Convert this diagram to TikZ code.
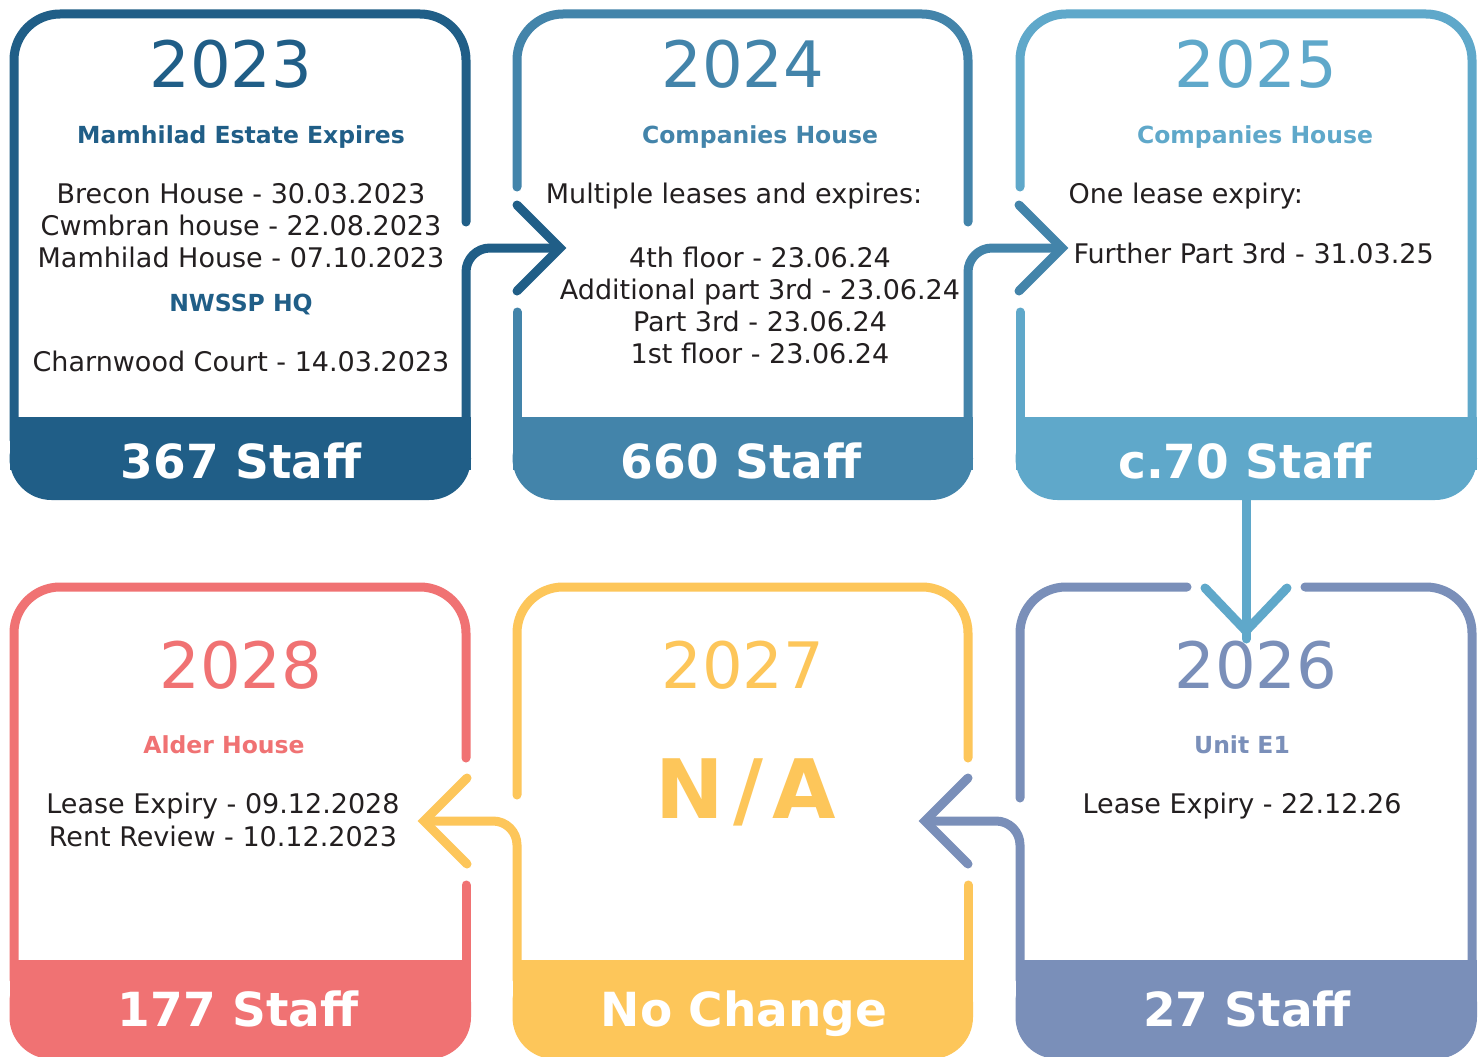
\documentclass[tikz,border=0pt]{standalone}
\usepackage{fontspec}
\setmainfont{DejaVu Sans}

\definecolor{navy}{HTML}{205E87}
\definecolor{steel}{HTML}{4384AA}
\definecolor{sky}{HTML}{5FA8CA}
\definecolor{lilac}{HTML}{7A8FB9}
\definecolor{amber}{HTML}{FDC65A}
\definecolor{coral}{HTML}{F07273}
\definecolor{ink}{HTML}{231F20}

\tikzset{
    frame/.style={line width=9pt, rounded corners=46pt, line cap=round},
    link/.style={line width=9pt, rounded corners=24pt, line cap=round},
    chevron/.style={line width=9pt, line cap=round, line join=miter},
    year/.style={font=\fontsize{64}{64}\selectfont, anchor=base},
    place/.style={font=\bfseries\fontsize{23.5}{28}\selectfont, anchor=base},
    entry/.style={font=\fontsize{27}{32}\selectfont, text=ink, anchor=base, align=center},
    staff/.style={font=\bfseries\fontsize{47}{47}\selectfont, text=white, anchor=base},
}

\begin{document}
\begin{tikzpicture}[x=1pt, y=-1pt]
        \fill [white] (0,0) rectangle (1483,1057);
        \useasboundingbox (0,0) rectangle (1483,1057);

        % top row frames
        \draw [frame, navy] (14,440) -- (14,14) -- (466,14) -- (466,222);
        \draw [frame, steel] (517,187) -- (517,14) -- (968,14) -- (968,222);
        \draw [frame, steel] (517,312) -- (517,440);
        \draw [frame, sky] (1020,187) -- (1020,14) -- (1472,14) -- (1472,440);
        \draw [frame, sky] (1020,312) -- (1020,440);

        % bottom row frames
        \draw [frame, coral] (466,758) -- (466,587) -- (14,587) -- (14,980);
        \draw [frame, coral] (466,885) -- (466,980);
        \draw [frame, amber] (517,795) -- (517,587) -- (968,587) -- (968,758);
        \draw [frame, amber] (968,885) -- (968,980);
        \draw [frame, lilac] (1187,587) -- (1020,587) -- (1020,798);
        \draw [frame, lilac] (1305,587) -- (1472,587) -- (1472,980);

        % arrow tips
        \coordinate (tip1) at (560,248);
        \coordinate (tip2) at (1062,248);
        \coordinate (tip3) at (1246,631);
        \coordinate (tip4) at (925,821);
        \coordinate (tip5) at (424,821);

        % links between years
        \draw [link, navy] (466,440) -- (466,248) -- ([xshift=-8pt]tip1);
        \draw [chevron, navy] (517,205) -- (tip1) -- (517,291);
        \draw [link, steel] (968,440) -- (968,248) -- ([xshift=-8pt]tip2);
        \draw [chevron, steel] (1019,205) -- (tip2) -- (1019,291);
        \draw [link, lilac] (1020,980) -- (1020,821) -- ([xshift=8pt]tip4);
        \draw [chevron, lilac] (968,778) -- (tip4) -- (968,864);
        \draw [link, amber] (517,980) -- (517,821) -- ([xshift=8pt]tip5);
        \draw [chevron, amber] (467,778) -- (tip5) -- (467,864);

        % staff bands
        \fill [navy, rounded corners=42pt] (9.5,417) rectangle (471,500);
        \fill [navy] (9.5,417) rectangle (471,470);
        \fill [steel, rounded corners=42pt] (512.5,417) rectangle (973,500);
        \fill [steel] (512.5,417) rectangle (973,470);
        \fill [sky, rounded corners=42pt] (1015.5,417) rectangle (1477,500);
        \fill [sky] (1015.5,417) rectangle (1477,470);
        \fill [coral, rounded corners=42pt] (9.5,960) rectangle (471,1059);
        \fill [coral] (9.5,960) rectangle (471,1010);
        \fill [amber, rounded corners=42pt] (512.5,960) rectangle (973,1059);
        \fill [amber] (512.5,960) rectangle (973,1010);
        \fill [lilac, rounded corners=42pt] (1015.5,960) rectangle (1477,1059);
        \fill [lilac] (1015.5,960) rectangle (1477,1010);

        \coordinate (drop) at (1246,500);
        \draw [link, sky] (drop) -- ([yshift=-8pt]tip3);
        \draw [chevron, sky] (1205,588) -- (tip3) -- (1287,588);

        % 2023
        \node [year, text=navy] (y23) at (231,87) {2023};
        \node [place, text=navy] (p23) at (241,143) {Mamhilad Estate Expires};
        \node [entry] (e23) at (241,267) {Brecon House - 30.03.2023\\Cwmbran house - 22.08.2023\\Mamhilad House - 07.10.2023};
        \node [place, text=navy] (q23) at (241,311) {NWSSP HQ};
        \node [entry] (f23) at (241,371) {Charnwood Court - 14.03.2023};
        \node [staff] (s23) at (241,478) {367 Staff};

        % 2024
        \node [year, text=steel] (y24) at (743,87) {2024};
        \node [place, text=steel] (p24) at (760,143) {Companies House};
        \node [entry] (e24) at (734,203) {Multiple leases and expires:};
        \node [entry] (f24) at (760,363) {4th floor - 23.06.24\\Additional part 3rd - 23.06.24\\Part 3rd - 23.06.24\\1st floor - 23.06.24};
        \node [staff] (s24) at (741,478) {660 Staff};

        % 2025
        \node [year, text=sky] (y25) at (1256,87) {2025};
        \node [place, text=sky] (p25) at (1255,143) {Companies House};
        \node [entry, anchor=base west] (e25) at (1065,203) {One lease expiry:};
        \node [entry, anchor=base west] (f25) at (1070,263) {Further Part 3rd - 31.03.25};
        \node [staff] (s25) at (1245,478) {c.70 Staff};

        % 2026
        \node [year, text=lilac] (y26) at (1256,688) {2026};
        \node [place, text=lilac] (p26) at (1242,753) {Unit E1};
        \node [entry] (e26) at (1242,813) {Lease Expiry - 22.12.26};
        \node [staff] (s26) at (1247,1026) {27 Staff};

        % 2027
        \node [year, text=amber] (y27) at (743,688) {2027};
        \node [font=\bfseries\fontsize{82}{82}\selectfont, text=amber, anchor=base] (na27) at (746,818) {N\kern9pt/\kern9pt A};
        \node [staff] (s27) at (744,1026) {No Change};

        % 2028
        \node [year, text=coral] (y28) at (241,688) {2028};
        \node [place, text=coral] (p28) at (224,753) {Alder House};
        \node [entry, font=\fontsize{27}{33}\selectfont] (e28) at (223,846) {Lease Expiry - 09.12.2028\\Rent Review - 10.12.2023};
        \node [staff] (s28) at (238,1026) {177 Staff};
\end{tikzpicture}
\end{document}
